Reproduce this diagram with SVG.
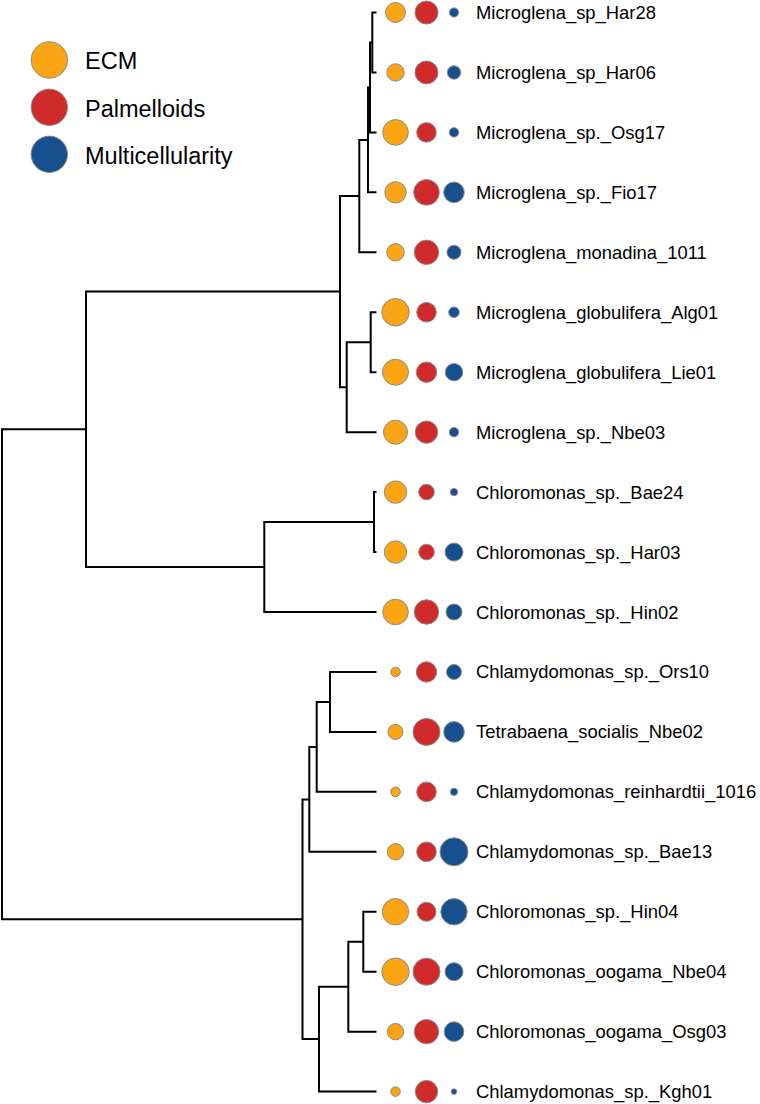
<svg xmlns="http://www.w3.org/2000/svg" width="760" height="1104" viewBox="0 0 760 1104">
<style>
.br{fill:none;stroke:#000;stroke-width:2;stroke-linejoin:miter;stroke-linecap:butt}
.e{fill:#FBA514;stroke:#8c8c8c;stroke-width:1}
.p{fill:#D02A2B;stroke:#8c8c8c;stroke-width:1}
.m{fill:#17508E;stroke:#8c8c8c;stroke-width:1}
.t{font-family:"Liberation Sans",Arial,sans-serif;font-size:18.4px;fill:#000}
.lt{font-family:"Liberation Sans",Arial,sans-serif;font-size:23.5px;fill:#000}
</style>
<rect width="760" height="1104" fill="#fff"/>
<g id="legend">
<circle class="e" cx="49.3" cy="60" r="18.2"/>
<circle class="p" cx="49.3" cy="107.3" r="18.2"/>
<circle class="m" cx="49.3" cy="154.3" r="18.2"/>
<text class="lt" x="85" y="69.3">ECM</text>
<text class="lt" x="85" y="116.6">Palmelloids</text>
<text class="lt" x="85" y="163.6">Multicellularity</text>
</g>
<g id="connectors">
<path class="br" d="M2,674V429.3H86M2,674V919.3H302.5"/>
<path class="br" d="M86,429.3V291.6H340M86,429.3V567H264.3"/>
<path class="br" d="M340,291.6V196H359.3M340,291.6V387.2H346.7"/>
<path class="br" d="M359.3,196V140H368M359.3,196V252.3H376.5"/>
<path class="br" d="M368,140V87.5H370M368,140V192.35H376.5"/>
<path class="br" d="M370,87.5V42.5H372.3M370,87.5V132.4H376.5"/>
<path class="br" d="M372.3,42.5V12.5H376.5M372.3,42.5V72.45H376.5"/>
<path class="br" d="M346.7,387.2V342.2H370.7M346.7,387.2V432.15H376.5"/>
<path class="br" d="M370.7,342.2V312.25H376.5M370.7,342.2V372.2H376.5"/>
<path class="br" d="M264.3,567V522H374M264.3,567V612H376.5"/>
<path class="br" d="M374,522V492.1H376.5M374,522V552.05H376.5"/>
<path class="br" d="M302.5,919.3V799.4H309.3M302.5,919.3V1039.1H319"/>
<path class="br" d="M309.3,799.4V746.9H316.7M309.3,799.4V851.8H376.5"/>
<path class="br" d="M316.7,746.9V702H330M316.7,746.9V791.85H376.5"/>
<path class="br" d="M330,702V671.95H376.5M330,702V731.9H376.5"/>
<path class="br" d="M319,1039.1V986.7H348.3M319,1039.1V1091.6H376.5"/>
<path class="br" d="M348.3,986.7V941.7H363.3M348.3,986.7V1031.65H376.5"/>
<path class="br" d="M363.3,941.7V911.75H376.5M363.3,941.7V971.7H376.5"/>
</g>
<g id="tip0"><circle class="e" cx="395.5" cy="12.5" r="10"/><circle class="p" cx="426.5" cy="12.5" r="11.5"/><circle class="m" cx="454" cy="12.5" r="4.6"/><text class="t" x="476" y="19">Microglena_sp_Har28</text></g>
<g id="tip1"><circle class="e" cx="395.5" cy="72.45" r="8.7"/><circle class="p" cx="426.5" cy="72.45" r="11.5"/><circle class="m" cx="454" cy="72.45" r="6.7"/><text class="t" x="476" y="78.95">Microglena_sp_Har06</text></g>
<g id="tip2"><circle class="e" cx="395.5" cy="132.4" r="12.8"/><circle class="p" cx="426.5" cy="132.4" r="9.8"/><circle class="m" cx="454" cy="132.4" r="4.7"/><text class="t" x="476" y="138.9">Microglena_sp._Osg17</text></g>
<g id="tip3"><circle class="e" cx="395.5" cy="192.35" r="10.7"/><circle class="p" cx="426.5" cy="192.35" r="12.8"/><circle class="m" cx="454" cy="192.35" r="10.3"/><text class="t" x="476" y="198.85">Microglena_sp._Fio17</text></g>
<g id="tip4"><circle class="e" cx="395.5" cy="252.3" r="8.7"/><circle class="p" cx="426.5" cy="252.3" r="12.2"/><circle class="m" cx="454" cy="252.3" r="7"/><text class="t" x="476" y="258.8">Microglena_monadina_1011</text></g>
<g id="tip5"><circle class="e" cx="395.5" cy="312.25" r="13.7"/><circle class="p" cx="426.5" cy="312.25" r="9.8"/><circle class="m" cx="454" cy="312.25" r="5.3"/><text class="t" x="476" y="318.75">Microglena_globulifera_Alg01</text></g>
<g id="tip6"><circle class="e" cx="395.5" cy="372.2" r="13"/><circle class="p" cx="426.5" cy="372.2" r="10.2"/><circle class="m" cx="454" cy="372.2" r="8.7"/><text class="t" x="476" y="378.7">Microglena_globulifera_Lie01</text></g>
<g id="tip7"><circle class="e" cx="395.5" cy="432.15" r="12"/><circle class="p" cx="426.5" cy="432.15" r="11.2"/><circle class="m" cx="454" cy="432.15" r="4.7"/><text class="t" x="476" y="438.65">Microglena_sp._Nbe03</text></g>
<g id="tip8"><circle class="e" cx="395.5" cy="492.1" r="11.2"/><circle class="p" cx="426.5" cy="492.1" r="7.8"/><circle class="m" cx="454" cy="492.1" r="3.7"/><text class="t" x="476" y="498.6">Chloromonas_sp._Bae24</text></g>
<g id="tip9"><circle class="e" cx="395.5" cy="552.05" r="11.2"/><circle class="p" cx="426.5" cy="552.05" r="7.8"/><circle class="m" cx="454" cy="552.05" r="9"/><text class="t" x="476" y="558.55">Chloromonas_sp._Har03</text></g>
<g id="tip10"><circle class="e" cx="395.5" cy="612" r="12.8"/><circle class="p" cx="426.5" cy="612" r="12.2"/><circle class="m" cx="454" cy="612" r="8"/><text class="t" x="476" y="618.5">Chloromonas_sp._Hin02</text></g>
<g id="tip11"><circle class="e" cx="395.5" cy="671.95" r="4.8"/><circle class="p" cx="426.5" cy="671.95" r="10.2"/><circle class="m" cx="454" cy="671.95" r="7.5"/><text class="t" x="476" y="678.45">Chlamydomonas_sp._Ors10</text></g>
<g id="tip12"><circle class="e" cx="395.5" cy="731.9" r="7.5"/><circle class="p" cx="426.5" cy="731.9" r="13.5"/><circle class="m" cx="454" cy="731.9" r="10.3"/><text class="t" x="476" y="738.4">Tetrabaena_socialis_Nbe02</text></g>
<g id="tip13"><circle class="e" cx="395.5" cy="791.85" r="4.8"/><circle class="p" cx="426.5" cy="791.85" r="9.8"/><circle class="m" cx="454" cy="791.85" r="3.7"/><text class="t" x="476" y="798.35">Chlamydomonas_reinhardtii_1016</text></g>
<g id="tip14"><circle class="e" cx="395.5" cy="851.8" r="8.2"/><circle class="p" cx="426.5" cy="851.8" r="9.8"/><circle class="m" cx="454" cy="851.8" r="14"/><text class="t" x="476" y="858.3">Chlamydomonas_sp._Bae13</text></g>
<g id="tip15"><circle class="e" cx="395.5" cy="911.75" r="13.2"/><circle class="p" cx="426.5" cy="911.75" r="9.5"/><circle class="m" cx="454" cy="911.75" r="13.2"/><text class="t" x="476" y="918.25">Chloromonas_sp._Hin04</text></g>
<g id="tip16"><circle class="e" cx="395.5" cy="971.7" r="13.7"/><circle class="p" cx="426.5" cy="971.7" r="13.5"/><circle class="m" cx="454" cy="971.7" r="9"/><text class="t" x="476" y="978.2">Chloromonas_oogama_Nbe04</text></g>
<g id="tip17"><circle class="e" cx="395.5" cy="1031.65" r="8.2"/><circle class="p" cx="426.5" cy="1031.65" r="12.2"/><circle class="m" cx="454" cy="1031.65" r="9.8"/><text class="t" x="476" y="1038.15">Chloromonas_oogama_Osg03</text></g>
<g id="tip18"><circle class="e" cx="395.5" cy="1091.6" r="4.8"/><circle class="p" cx="426.5" cy="1091.6" r="11.2"/><circle class="m" cx="454" cy="1091.6" r="2.8"/><text class="t" x="476" y="1098.1">Chlamydomonas_sp._Kgh01</text></g>
</svg>
